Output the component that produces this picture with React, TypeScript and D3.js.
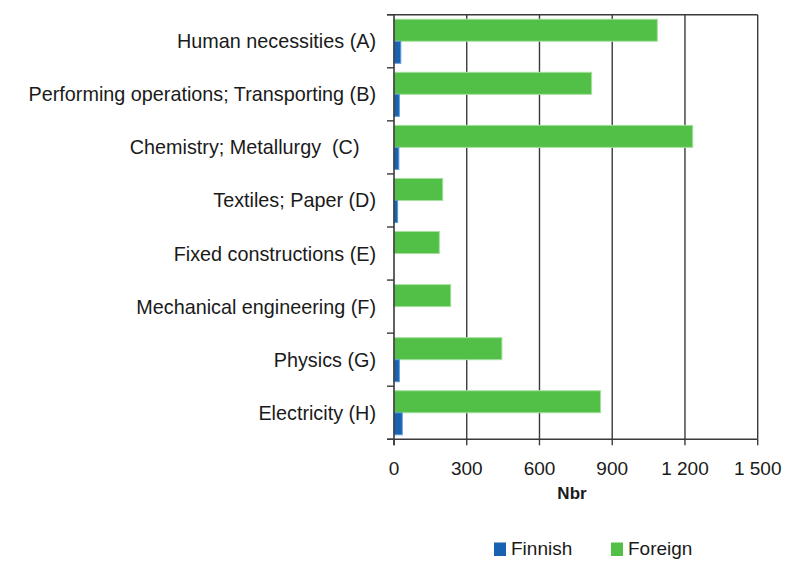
import React from "react";
import * as d3 from "d3";

const categories = [
  "Human necessities (A)",
  "Performing operations; Transporting (B)",
  "Chemistry; Metallurgy  (C)   ",
  "Textiles; Paper (D)",
  "Fixed constructions (E)",
  "Mechanical engineering (F)",
  "Physics (G)",
  "Electricity (H)",
];
const finnish = [28, 22, 20, 15, 0, 0, 22, 34];
const foreign = [1086, 815, 1232, 201, 187, 234, 445, 852];
const series = ["Foreign", "Finnish"];
const legendLabels = ["Finnish", "Foreign"];
const xTicks = [0, 300, 600, 900, 1200, 1500];
const axisTitle = "Nbr";

const W = 789;
const H = 571;
const left = 394;
const right = 757.7;
const top = 14.7;
const bottom = 439.3;
const GREEN = "#52c046";
const BLUE = "#1862b2";
const FONT = "'Liberation Sans', Arial, sans-serif";

export default function App() {
  const x = d3.scaleLinear().domain([0, 1500]).range([left, right]);
  const y = d3.scaleBand<string>().domain(categories).range([top, bottom]).padding(0);
  const sub = d3
    .scaleBand<string>()
    .domain(series)
    .range([0, y.bandwidth()])
    .paddingInner(0)
    .paddingOuter(0.205);
  const fmt = (v: number) => d3.format(",")(v).replace(/,/g, " ");
  const colorOf: Record<string, string> = { Finnish: BLUE, Foreign: GREEN };
  const strokeOf: Record<string, string> = { Finnish: "#5d9ad6", Foreign: "#a6e09e" };
  const valuesOf: Record<string, number[]> = { Finnish: finnish, Foreign: foreign };
  const boundaries = categories.map((c) => y(c)!).concat([bottom]);

  return (
    <svg
      width={W}
      height={H}
      style={{ position: "absolute", left: 0, top: 0, background: "#fff" }}
      fontFamily={FONT}
    >
      {/* grid lines */}
      {xTicks.slice(1).map((t) => (
        <line key={"g" + t} x1={x(t)} x2={x(t)} y1={top} y2={bottom} stroke="#3a3a3a" strokeWidth={1.4} />
      ))}
      {/* top border */}
      <line x1={left - 7} x2={right} y1={top} y2={top} stroke="#3a3a3a" strokeWidth={1.4} />
      {/* bars */}
      {categories.map((c, i) =>
        series.map((s) => {
          const v = valuesOf[s][i];
          if (v <= 0) return null;
          return (
            <rect
              key={c + s}
              x={x(0)}
              y={y(c)! + sub(s)!}
              width={x(v) - x(0)}
              height={sub.bandwidth()}
              fill={colorOf[s]}
              stroke={strokeOf[s]}
              strokeWidth={1}
            />
          );
        })
      )}
      {/* y axis */}
      <line x1={left} x2={left} y1={top} y2={bottom + 6} stroke="#3a3a3a" strokeWidth={1.6} />
      {boundaries.map((b, i) => (
        <line key={"yt" + i} x1={left - 7} x2={left} y1={b} y2={b} stroke="#3a3a3a" strokeWidth={1.4} />
      ))}
      {categories.map((c) => (
        <text
          key={"l" + c}
          x={376}
          y={y(c)! + y.bandwidth() / 2 + 7}
          textAnchor="end"
          fontSize={19.8}
          fill="#1a1a1a"
          style={{ whiteSpace: "pre" }}
        >
          {c}
        </text>
      ))}
      {/* x axis */}
      <line x1={left - 7} x2={right} y1={bottom} y2={bottom} stroke="#3a3a3a" strokeWidth={1.6} />
      {xTicks.map((t) => (
        <g key={"xt" + t}>
          <line x1={x(t)} x2={x(t)} y1={bottom} y2={bottom + 6} stroke="#3a3a3a" strokeWidth={1.4} />
          <text x={x(t)} y={475} textAnchor="middle" fontSize={19} fill="#1a1a1a">
            {fmt(t)}
          </text>
        </g>
      ))}
      <text x={572} y={498.5} textAnchor="middle" fontSize={17} fontWeight="bold" fill="#1a1a1a">
        {axisTitle}
      </text>
      {/* legend */}
      {legendLabels.map((s, i) => {
        const lx = i === 0 ? 494 : 611;
        return (
          <g key={"lg" + s}>
            <rect x={lx} y={542.5} width={12} height={13.5} fill={colorOf[s]} />
            <text x={lx + 17} y={555} fontSize={19} fill="#1a1a1a">
              {s}
            </text>
          </g>
        );
      })}
    </svg>
  );
}
